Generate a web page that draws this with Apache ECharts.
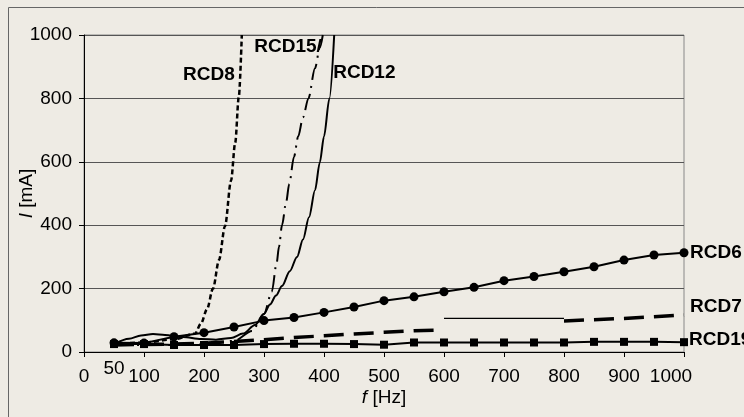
<!DOCTYPE html>
<html>
<head>
<meta charset="utf-8">
<script src="https://cdn.jsdelivr.net/npm/echarts@6/dist/echarts.min.js"></script>
<style>
html,body{margin:0;padding:0;background:#eeebe4;}
#c{width:744px;height:417px;}
</style>
</head>
<body>
<div id="c"></div>
<script>
// Frequencies (Hz) for the marker series
var freq = [50,100,150,200,250,300,350,400,450,500,550,600,650,700,750,800,850,900,950,1000];
// RCD6 (circles) tripping current, mA
var rcd6 = [29,28,48,61,79,99,109,125,142,162,174,190,204,225,238,253,269,290,306,313];
// RCD19 (squares) tripping current, mA
var rcd19 = [25,25,22,22,22,25,26,26,25,23,30,30,30,30,30,30,32,32,32,31];
// RCD7 (long dashes), with a break
var rcd7F = [50,100,150,200,250,300,350,400,450,500,550,585,590,800,850,900,950,1000];
var rcd7I = [22,24,25,28,33,39,46,51,57,62,67,69,'-',98,102,106,111,117];
// RCD7 thin segment
var rcd7bF = [600,800];
var rcd7bI = [106,106];
// RCD8 (dotted)
var rcd8F = [50,100,150,185,195,205,215,225,235,245,252,258,263];
var rcd8I = [25,30,40,58,90,135,200,290,397,540,660,805,1000];
// RCD15 (dash-dot)
var rcd15F = [50,100,150,200,250,280,300,313,321,325,330,337,342,350,357,365,374,385,393,398];
var rcd15I = [22,22,22,24,35,66,120,190,280,332,400,474,530,616,680,740,800,895,960,1000];
// RCD12 (solid)
var rcd12F = [50,75,95,115,135,165,195,220,245,265,285,300,310,320,330,343,355,365,375,385,393,400,409,417];
var rcd12I = [25,42,52,57,54,47,41,39,44,58,85,120,150,178,208,255,300,355,425,510,598,680,800,1000];
// Axis ticks
var xTicks = [0,100,200,300,400,500,600,700,800,900,1000];
var extraXTick = [50];

function zip(a,b){return a.map(function(v,i){return [v,b[i]];});}

var FONT = '"Liberation Sans", Arial, sans-serif';
var chart = echarts.init(document.getElementById('c'), null, {renderer:'canvas'});

function lbl(text, align, offset){
  return {show:true, formatter:text, align:align, verticalAlign:'middle', offset:offset, distance:0,
          color:'#000', fontFamily:FONT, fontWeight:'bold', fontSize:19};
}

chart.setOption({
  animation:false,
  backgroundColor:'#eeebe4',
  textStyle:{fontFamily:FONT},
  graphic:[{type:'rect', shape:{x:8.5,y:7.5,width:800,height:500}, style:{fill:'none',stroke:'#666',lineWidth:1}, silent:true, z:-1}],
  grid:{left:84,right:60,top:35,bottom:65,containLabel:false,outerBoundsMode:'none',
        show:true,borderColor:'#888',borderWidth:1,backgroundColor:'transparent'},
  xAxis:[{
    type:'value', min:0, max:1000, interval:100,
    name:'{i|f} [Hz]', nameLocation:'middle', nameGap:36, nameMoveOverlap:false,
    nameTextStyle:{color:'#000',fontSize:19,fontFamily:FONT,rich:{i:{fontStyle:'italic',fontSize:19,fontFamily:FONT,color:'#000'}}},
    axisLine:{lineStyle:{color:'#000',width:1}},
    axisTick:{show:true,inside:false,length:5,lineStyle:{color:'#000'}},
    splitLine:{show:false},
    axisLabel:{color:'#000',fontSize:19,fontFamily:FONT,margin:15,customValues:xTicks,
      formatter:function(v){return v===1000?'{s|1000}':String(v);},
      rich:{s:{fontSize:19,fontFamily:FONT,color:'#000',padding:[0,26,0,0]}}}
  },{
    type:'value', min:0, max:1000, position:'bottom',
    axisLine:{show:false}, axisTick:{show:false}, splitLine:{show:false},
    axisLabel:{color:'#000',fontSize:19,fontFamily:FONT,margin:7,customValues:extraXTick}
  }],
  yAxis:{
    type:'value', min:0, max:1000, interval:200,
    name:'{i|I} [mA]', nameLocation:'middle', nameGap:48, nameRotate:90, nameMoveOverlap:false,
    nameTextStyle:{color:'#000',fontSize:19,fontFamily:FONT,rich:{i:{fontStyle:'italic',fontSize:19,fontFamily:FONT,color:'#000'}}},
    axisLine:{show:true,lineStyle:{color:'#000',width:1}},
    axisTick:{show:true,inside:false,length:5,lineStyle:{color:'#000'}},
    splitLine:{show:true,lineStyle:{color:'#555',width:1}},
    axisLabel:{color:'#000',fontSize:19,fontFamily:FONT,margin:12,formatter:function(v){return String(v);}}
  },
  series:[
    {name:'RCD7b', type:'line', data:zip(rcd7bF,rcd7bI), showSymbol:false, symbol:'none',
     lineStyle:{color:'#000',width:1.2}},
    {name:'RCD7', type:'line', data:zip(rcd7F,rcd7I), symbol:'none', connectNulls:false,
     lineStyle:{color:'#000',width:3.5,type:[20,10]},
     endLabel:lbl('RCD7','left',[6,-8])},
    {name:'RCD8', type:'line', data:zip(rcd8F,rcd8I), symbol:'none', smooth:0.3, smoothMonotone:'x',
     lineStyle:{color:'#000',width:2.5,type:[5,3]},
     endLabel:lbl('RCD8','right',[-7,40])},
    {name:'RCD15', type:'line', data:zip(rcd15F,rcd15I), symbol:'none', smooth:0.3, smoothMonotone:'x',
     lineStyle:{color:'#000',width:2,type:[17,6,2,6]},
     endLabel:lbl('RCD15/','right',[-1,12])},
    {name:'RCD12', type:'line', data:zip(rcd12F,rcd12I), symbol:'none', smooth:0.3, smoothMonotone:'x',
     lineStyle:{color:'#000',width:2},
     endLabel:lbl('RCD12','left',[-1,38])},
    {name:'RCD19', type:'line', data:zip(freq,rcd19), symbol:'rect', symbolSize:8, showAllSymbol:true,
     itemStyle:{color:'#000'}, lineStyle:{color:'#000',width:2},
     endLabel:lbl('RCD19','left',[5,-2])},
    {name:'RCD6', type:'line', data:zip(freq,rcd6), symbol:'circle', symbolSize:9, showAllSymbol:true,
     itemStyle:{color:'#000'}, lineStyle:{color:'#000',width:2},
     endLabel:lbl('RCD6','left',[6,0])}
  ]
});
</script>
</body>
</html>
